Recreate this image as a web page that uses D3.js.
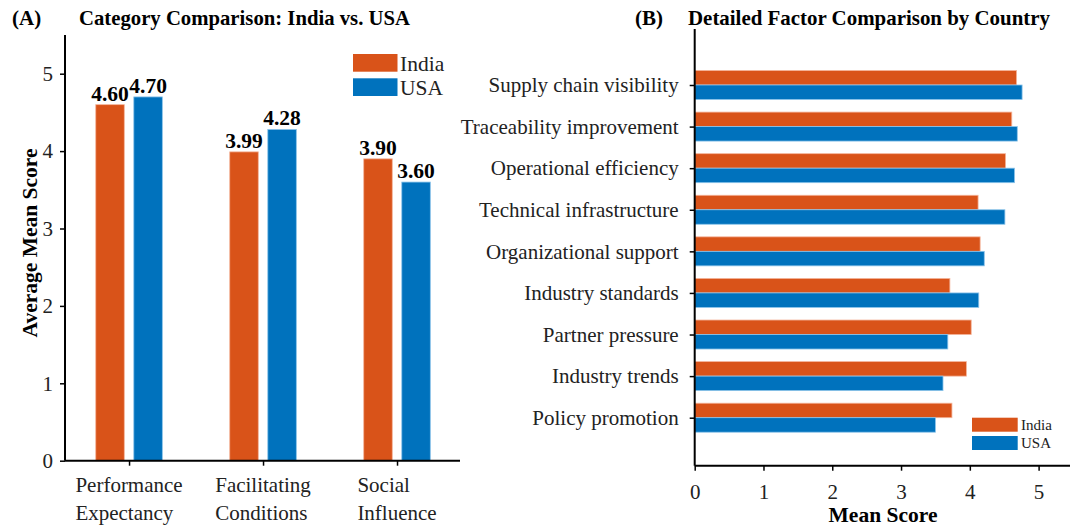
<!DOCTYPE html>
<html>
<head>
<meta charset="utf-8">
<script src="https://cdn.jsdelivr.net/npm/d3@7"></script>
<style>
  body { margin: 0; background: #fff; }
  svg { font-family: "Liberation Serif", "DejaVu Serif", serif; }
</style>
</head>
<body>
<svg id="chart" width="1070" height="526"></svg>
<script>
// panel A data
var categories = ["Performance Expectancy", "Facilitating Conditions", "Social Influence"];
var indiaCat = [4.60, 3.99, 3.90];
var usaCat = [4.70, 4.28, 3.60];

// panel B data
var factors = ["Supply chain visibility", "Traceability improvement", "Operational efficiency",
  "Technical infrastructure", "Organizational support", "Industry standards",
  "Partner pressure", "Industry trends", "Policy promotion"];
var indiaFac = [4.68, 4.61, 4.52, 4.12, 4.15, 3.71, 4.02, 3.95, 3.74];
var usaFac = [4.76, 4.69, 4.65, 4.51, 4.21, 4.13, 3.68, 3.61, 3.50];

var yTicksA = [0, 1, 2, 3, 4, 5];
var xTicksB = [0, 1, 2, 3, 4, 5];

var colors = { India: "#D95319", USA: "#0072BD" };

var svg = d3.select("#chart");

function styleAxis(g) {
  g.select(".domain").attr("stroke", "#000").attr("stroke-width", 2);
  g.selectAll(".tick line").attr("stroke", "#000").attr("stroke-width", 1.5);
  g.selectAll(".tick text").attr("font-size", 21).attr("fill", "#222")
    .attr("font-family", "Liberation Serif, serif");
}

// ---------- panel A ----------
var xA = d3.scaleLinear().domain([-0.478, 2.47]).range([65, 460]);
var yA = d3.scaleLinear().domain([0, 5.5]).range([460.7, 35]);
var bw = 0.213, off = 0.142;

var gA = svg.append("g");

gA.selectAll("rect.india").data(indiaCat).enter().append("rect")
  .attr("x", function(d, i) { return xA(i - off - bw / 2); })
  .attr("width", xA(bw) - xA(0))
  .attr("y", function(d) { return yA(d); })
  .attr("height", function(d) { return yA(0) - yA(d); })
  .attr("fill", colors.India)
  .attr("stroke", "#f4b49a").attr("stroke-width", 0.8);

gA.selectAll("rect.usa").data(usaCat).enter().append("rect")
  .attr("x", function(d, i) { return xA(i + off - bw / 2); })
  .attr("width", xA(bw) - xA(0))
  .attr("y", function(d) { return yA(d); })
  .attr("height", function(d) { return yA(0) - yA(d); })
  .attr("fill", colors.USA)
  .attr("stroke", "#8cc4ea").attr("stroke-width", 0.8);

// value labels
function valLabels(data, dx) {
  gA.selectAll(null).data(data).enter().append("text")
    .attr("x", function(d, i) { return xA(i + dx); })
    .attr("y", function(d) { return yA(d) - 4; })
    .attr("text-anchor", "middle")
    .attr("font-size", 21.5).attr("font-weight", "bold")
    .text(function(d) { return d.toFixed(2); });
}
valLabels(indiaCat, -off);
valLabels(usaCat, off);

var axYA = gA.append("g").attr("transform", "translate(65,0)")
  .call(d3.axisLeft(yA).tickValues(yTicksA).tickSize(5).tickPadding(7).tickFormat(d3.format("d")));
styleAxis(axYA);
axYA.select(".domain").attr("d", "M0," + yA(0) + "V35");

var axXA = gA.append("g").attr("transform", "translate(0," + yA(0) + ")")
  .call(d3.axisBottom(xA).tickValues([0, 1, 2]).tickSize(5).tickFormat(""));
styleAxis(axXA);
axXA.select(".domain").attr("d", "M65,0H460");

// two-line category labels, block centred on the tick, lines left aligned
categories.forEach(function(c, i) {
  var parts = c.split(" ");
  var t = gA.append("text").attr("font-size", 21).attr("fill", "#222");
  var spans = parts.map(function(p, j) {
    return t.append("tspan").attr("y", 492 + j * 28).text(p);
  });
  var maxW = d3.max(spans, function(s) { return s.node().getComputedTextLength(); });
  spans.forEach(function(s) { s.attr("x", xA(i) - maxW / 2); });
});

gA.append("text")
  .attr("transform", "translate(37,243) rotate(-90)")
  .attr("text-anchor", "middle").attr("font-size", 21.5).attr("font-weight", "bold")
  .text("Average Mean Score");

gA.append("text").attr("x", 12).attr("y", 25).attr("font-size", 21).attr("font-weight", "bold").text("(A)");
gA.append("text").attr("x", 79).attr("y", 25).attr("font-size", 21).attr("font-weight", "bold")
  .attr("textLength", 331).attr("lengthAdjust", "spacingAndGlyphs")
  .text("Category Comparison: India vs. USA");

// legend A
var legA = gA.append("g");
["India", "USA"].forEach(function(k, i) {
  legA.append("rect").attr("x", 353).attr("y", 54 + i * 24.3).attr("width", 44.5).attr("height", 17.7)
    .attr("fill", colors[k]);
  legA.append("text").attr("x", 400).attr("y", 70.5 + i * 24.3).attr("font-size", 21.5).attr("fill", "#222").text(k);
});

// ---------- panel B ----------
var xB = d3.scaleLinear().domain([0, 5.5]).range([694.7, 1073]);
var yB = d3.scaleLinear().domain([0, 8]).range([85, 417.7]);
var bh = 14.5;

var gB = svg.append("g");

gB.selectAll("rect.india").data(indiaFac).enter().append("rect")
  .attr("x", xB(0))
  .attr("y", function(d, i) { return yB(i) - bh; })
  .attr("width", function(d) { return xB(d) - xB(0); })
  .attr("height", bh)
  .attr("fill", colors.India)
  .attr("stroke", "#f4b49a").attr("stroke-width", 0.8);

gB.selectAll("rect.usa").data(usaFac).enter().append("rect")
  .attr("x", xB(0))
  .attr("y", function(d, i) { return yB(i); })
  .attr("width", function(d) { return xB(d) - xB(0); })
  .attr("height", bh)
  .attr("fill", colors.USA)
  .attr("stroke", "#8cc4ea").attr("stroke-width", 0.8);

var axYB = gB.append("g").attr("transform", "translate(" + xB(0) + ",0)")
  .call(d3.axisLeft(yB).tickValues(d3.range(factors.length)).tickSize(5).tickPadding(11)
    .tickFormat(function(i) { return factors[i]; }));
styleAxis(axYB);
axYB.select(".domain").attr("d", "M0,29V465.7");

var axXB = gB.append("g").attr("transform", "translate(0,465.7)")
  .call(d3.axisBottom(xB).tickValues(xTicksB).tickSize(5).tickFormat(d3.format("d")));
styleAxis(axXB);
axXB.selectAll(".tick text").attr("y", 33).attr("dy", null);
axXB.select(".domain").attr("d", "M" + xB(0) + ",0H1070");

gB.append("text").attr("x", 883).attr("y", 522).attr("text-anchor", "middle")
  .attr("font-size", 21.5).attr("font-weight", "bold").text("Mean Score");

gB.append("text").attr("x", 635).attr("y", 25).attr("font-size", 21).attr("font-weight", "bold").text("(B)");
gB.append("text").attr("x", 688).attr("y", 25).attr("font-size", 21).attr("font-weight", "bold")
  .attr("textLength", 362).attr("lengthAdjust", "spacingAndGlyphs")
  .text("Detailed Factor Comparison by Country");

// legend B
var legB = gB.append("g");
["India", "USA"].forEach(function(k, i) {
  legB.append("rect").attr("x", 972).attr("y", 417.7 + i * 18.3).attr("width", 45.7).attr("height", 14)
    .attr("fill", colors[k]);
  legB.append("text").attr("x", 1021).attr("y", 430 + i * 18.3).attr("font-size", 15).attr("fill", "#222").text(k);
});
</script>
</body>
</html>
